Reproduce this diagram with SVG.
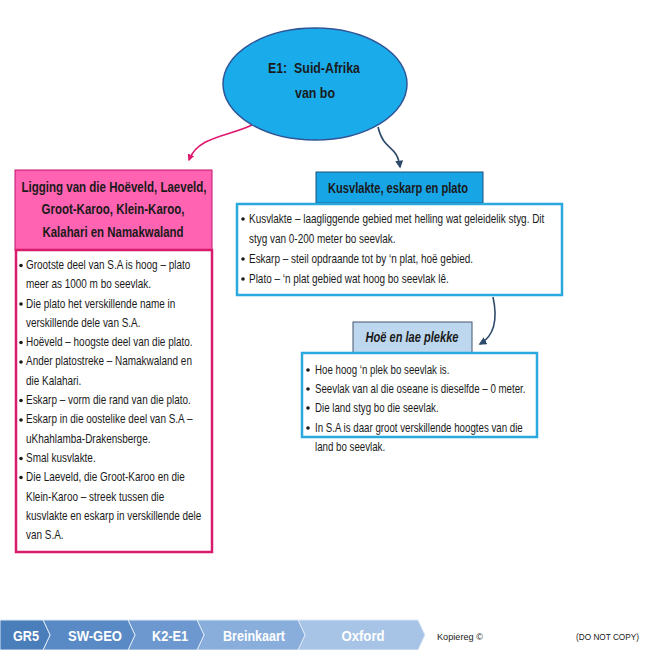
<svg xmlns="http://www.w3.org/2000/svg" width="650" height="650" viewBox="0 0 650 650">
<style>
text{font-family:"Liberation Sans",Arial,sans-serif;fill:#1a1a1a}
.b{font-size:12px}
.h{font-size:14px;font-weight:bold;text-anchor:middle}
.f{font-size:15px;font-weight:bold;fill:#fff;text-anchor:middle}
.s{font-size:9.5px}
.bodyP{fill:#fff;stroke:#D81B6A;stroke-width:2.5}
.bodyB{fill:#fff;stroke:#2AA9DF;stroke-width:2.5}
.con{fill:none;stroke-width:1.6}
.dot{fill:#1a1a1a}
</style>
<defs>
<marker id="mp" viewBox="0 0 10 10" refX="8" refY="5" markerWidth="7" markerHeight="7" orient="auto" markerUnits="userSpaceOnUse"><path d="M0,0 L10,5 L0,10 z" fill="#E0196E"/></marker>
<marker id="md" viewBox="0 0 10 10" refX="8" refY="5" markerWidth="8" markerHeight="8" orient="auto" markerUnits="userSpaceOnUse"><path d="M0,0 L10,5 L0,10 z" fill="#2E4A6B"/></marker>
</defs>
<rect width="650" height="650" fill="#fff"/>

<g id="connectors">
<path class="con" d="M252,125 C230,136 198,136 189,160" stroke="#E0196E" marker-end="url(#mp)"/>
<path class="con" d="M378,127 C384,152 397,144 400,167" stroke="#2E4A6B" marker-end="url(#md)"/>
<path class="con" d="M493,297 C498,320 494,336 480,344" stroke="#2E4A6B" marker-end="url(#md)"/>
</g>

<g id="root">
<ellipse cx="315" cy="84" rx="92" ry="56" fill="#1AACEA" stroke="#2F5597" stroke-width="1.5"/>
<text x="314" y="73" class="h" font-size="16" textLength="92" lengthAdjust="spacingAndGlyphs">E1:&#160; Suid-Afrika</text>
<text x="315" y="98" class="h" font-size="16" textLength="40" lengthAdjust="spacingAndGlyphs">van bo</text>
</g>

<g id="ligging">
<rect x="15" y="170" width="197" height="80" fill="#FF63B1" stroke="#C0126B" stroke-width="1"/>
<text x="114" y="192" class="h" textLength="185" lengthAdjust="spacingAndGlyphs">Ligging van die Hoëveld, Laeveld,</text>
<text x="113" y="214" class="h" textLength="143" lengthAdjust="spacingAndGlyphs">Groot-Karoo, Klein-Karoo,</text>
<text x="113" y="237" class="h" textLength="141" lengthAdjust="spacingAndGlyphs">Kalahari en Namakwaland</text>
<rect x="16" y="250" width="196" height="302" class="bodyP"/>
<circle cx="21" cy="265.5" r="1.8" class="dot"/>
<circle cx="21" cy="304" r="1.8" class="dot"/>
<circle cx="21" cy="342.5" r="1.8" class="dot"/>
<circle cx="21" cy="362" r="1.8" class="dot"/>
<circle cx="21" cy="400.5" r="1.8" class="dot"/>
<circle cx="21" cy="420" r="1.8" class="dot"/>
<circle cx="21" cy="458.5" r="1.8" class="dot"/>
<circle cx="21" cy="477.5" r="1.8" class="dot"/>
<g class="b" transform="translate(26,0) scale(0.83,1)">
<text x="0" y="269">Grootste deel van S.A is hoog – plato</text>
<text x="0" y="288">meer as 1000 m bo seevlak.</text>
<text x="0" y="307.6">Die plato het verskillende name in</text>
<text x="0" y="326.9">verskillende dele van S.A.</text>
<text x="0" y="346.2">Hoëveld – hoogste deel van die plato.</text>
<text x="0" y="365.5">Ander platostreke – Namakwaland en</text>
<text x="0" y="384.8">die Kalahari.</text>
<text x="0" y="404.1">Eskarp – vorm die rand van die plato.</text>
<text x="0" y="423.4">Eskarp in die oostelike deel van S.A –</text>
<text x="0" y="442.7">uKhahlamba-Drakensberge.</text>
<text x="0" y="462">Smal kusvlakte.</text>
<text x="0" y="481.3">Die Laeveld, die Groot-Karoo en die</text>
<text x="0" y="500.6">Klein-Karoo – streek tussen die</text>
<text x="0" y="519.9">kusvlakte en eskarp in verskillende dele</text>
<text x="0" y="539.2">van S.A.</text>
</g>
</g>

<g id="kusvlakte">
<rect x="316" y="172" width="167" height="31" fill="#17A5E6" stroke="#1F4E79" stroke-width="1"/>
<text x="398" y="193" class="h" textLength="140" lengthAdjust="spacingAndGlyphs">Kusvlakte, eskarp en plato</text>
<rect x="237" y="204" width="325" height="91" class="bodyB"/>
<circle cx="243" cy="219" r="1.8" class="dot"/>
<circle cx="243" cy="259" r="1.8" class="dot"/>
<circle cx="243" cy="279" r="1.8" class="dot"/>
<g class="b" transform="translate(249,0) scale(0.83,1)">
<text x="0" y="223">Kusvlakte – laagliggende gebied met helling wat geleidelik styg. Dit</text>
<text x="0" y="243">styg van 0-200 meter bo seevlak.</text>
<text x="0" y="263">Eskarp – steil opdraande tot by ‘n plat, hoë gebied.</text>
<text x="0" y="283">Plato – ‘n plat gebied wat hoog bo seevlak lê.</text>
</g>
</g>

<g id="hoe">
<rect x="353" y="322" width="119" height="31" fill="#BDD7EE" stroke="#44546A" stroke-width="1"/>
<text x="412" y="342" class="h" font-style="italic" textLength="93" lengthAdjust="spacingAndGlyphs">Hoë en lae plekke</text>
<rect x="302" y="353" width="235" height="84" class="bodyB"/>
<circle cx="308" cy="370" r="1.8" class="dot"/>
<circle cx="308" cy="389" r="1.8" class="dot"/>
<circle cx="308" cy="408" r="1.8" class="dot"/>
<circle cx="308" cy="428" r="1.8" class="dot"/>
<g class="b" transform="translate(315,0) scale(0.81,1)">
<text x="0" y="374">Hoe hoog ‘n plek bo seevlak is.</text>
<text x="0" y="393">Seevlak van al die oseane is dieselfde – 0 meter.</text>
<text x="0" y="412">Die land styg bo die seevlak.</text>
<text x="0" y="432">In S.A is daar groot verskillende hoogtes van die</text>
<text x="0" y="451">land bo seevlak.</text>
</g>
</g>

<g id="footer">
<polygon points="298,620 418,620 425,635 418,650 298,650 305,635" fill="#A7C3E6" stroke="#DCE8F6" stroke-width="1"/>
<polygon points="197,620 298,620 305,635 298,650 197,650 204,635" fill="#89AEDC" stroke="#DCE8F6" stroke-width="1"/>
<polygon points="128,620 197,620 204,635 197,650 128,650 135,635" fill="#6C98CF" stroke="#DCE8F6" stroke-width="1"/>
<polygon points="43,620 128,620 135,635 128,650 43,650 50,635" fill="#5A8AC6" stroke="#DCE8F6" stroke-width="1"/>
<polygon points="0,620 43,620 50,635 43,650 0,650" fill="#4A7EBB" stroke="#DCE8F6" stroke-width="1"/>
<text x="26" y="641" class="f" textLength="26" lengthAdjust="spacingAndGlyphs">GR5</text>
<text x="95" y="641" class="f" textLength="54" lengthAdjust="spacingAndGlyphs">SW-GEO</text>
<text x="170" y="641" class="f" textLength="36" lengthAdjust="spacingAndGlyphs">K2-E1</text>
<text x="254" y="641" class="f" textLength="62" lengthAdjust="spacingAndGlyphs">Breinkaart</text>
<text x="363" y="641" class="f" textLength="43" lengthAdjust="spacingAndGlyphs">Oxford</text>
<text x="437" y="640" class="s" textLength="46" lengthAdjust="spacingAndGlyphs">Kopiereg ©</text>
<text x="576" y="640" class="s" textLength="63" lengthAdjust="spacingAndGlyphs">(DO NOT COPY)</text>
</g>
</svg>
